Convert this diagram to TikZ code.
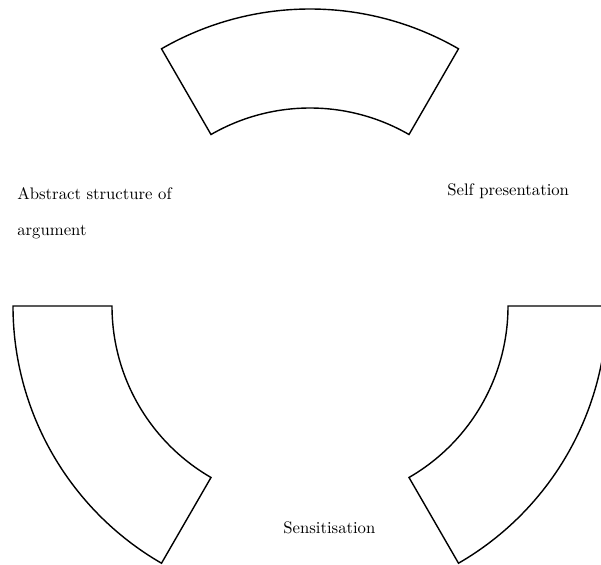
\documentclass[tikz,border=0pt]{standalone}
\usepackage{xcolor}

\begin{document}
\begin{tikzpicture}[scale=2, every node/.style={font=\fontsize{9.5}{11}\selectfont}]
        \useasboundingbox (-3.10,-2.58) rectangle (2.91,3.06);

        \draw [black, thick] (60:2.97) arc (60:120:2.97) -- (120:1.98) arc (120:60:1.98) -- cycle;
        \draw [black, thick] (180:2.97) arc (180:240:2.97) -- (240:1.98) arc (240:180:1.98) -- cycle;
        \draw [black, thick] (300:2.97) arc (300:360:2.97) -- (0:1.98) arc (360:300:1.98) -- cycle;

        \node (abstract) [anchor=base west, inner sep=0pt] at (-2.93, 1.07) {Abstract structure of};
        \node (argument) [anchor=base west, inner sep=0pt] at (-2.93, 0.71) {argument};
        \node (self) [anchor=base west, inner sep=0pt] at (1.37, 1.11) {Self presentation};
        \node (sensit) [anchor=base west, inner sep=0pt] at (-0.27, -2.27) {Sensitisation};
    \end{tikzpicture}
\end{document}
